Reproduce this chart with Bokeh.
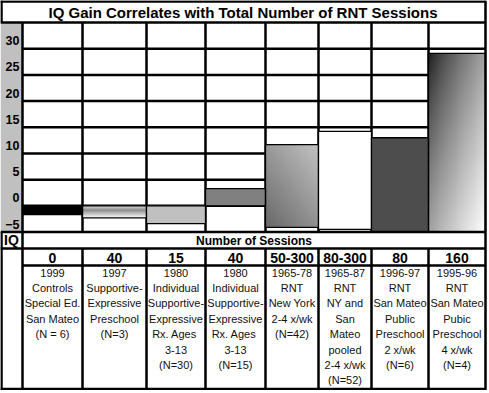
import numpy as np
from bokeh.plotting import figure
from bokeh.models import Range1d, LinearAxis, FixedTicker, ColumnDataSource
from bokeh.core.properties import value
from bokeh.embed import file_html
from bokeh.resources import INLINE

# ---------------- data ----------------
TITLE = "IQ Gain Correlates with Total Number of RNT Sessions"
ROW_TITLE = "Number of Sessions"
AXIS_NAME = "IQ"
sessions = ["0", "40", "15", "40", "50-300", "80-300", "80", "160"]
iq_gain = [-1.7, -2.3, -3.4, 3.3, 11.7, 14.2, 13.0, 29.1]
bar_base = [0, 0, 0, 0, -4.1, -4.5, -5, -5]
bar_fill = ["#000000", "grad_a", "#c0c0c0", "#808080", "grad_b", "#ffffff", "#4d4d4d", "grad_c"]
descriptions = [
    ["1999", "Controls", "Special Ed.", "San Mateo", "(N = 6)"],
    ["1997", "Supportive-", "Expressive", "Preschool", "(N=3)"],
    ["1980", "Individual", "Supportive-", "Expressive", "Rx.  Ages", "3-13", "(N=30)"],
    ["1980", "Individual", "Supportive-", "Expressive", "Rx.  Ages", "3-13", "(N=15)"],
    ["1965-78", "RNT", "New York", "2-4 x/wk", "(N=42)"],
    ["1965-87", "RNT", "NY and", "San", "Mateo", "pooled", "2-4 x/wk", "(N=52)"],
    ["1996-97", "RNT", "San Mateo", "Public", "Preschool", "2 x/wk", "(N=6)"],
    ["1995-96", "RNT", "San Mateo", "Pubic", "Preschool", "4 x/wk", "(N=4)"],
]
y_ticks = [-5, 0, 5, 10, 15, 20, 25, 30]
y_min, y_max = -5, 35

# ---------------- layout (pixels) ----------------
W, H = 487, 390
LEFT = 22
col_widths = [60, 64, 59, 60, 53, 53, 57, 57]
edges = list(np.cumsum([LEFT] + col_widths).astype(float))
N = len(sessions)
RIGHT = edges[-1]
TITLE_BOTTOM = 22.0
CHART_BOTTOM = 231.5
ROW1 = 248.0
ROW2 = 265.0
BODY0, BODY_STEP = 272.0, 15.4
BOTTOM = 388.5
LABEL_SHIFT_PX = 8.0
LINE_W = 2.5
SANS = value("Liberation Sans")

scale = (CHART_BOTTOM - TITLE_BOTTOM) / (y_max - y_min)


def px_to_val(ypx):
    return y_max - (ypx - TITLE_BOTTOM) / scale


def gradient(kind, nx=60, ny=200):
    u = np.linspace(0, 1, nx)[None, :]
    v = np.linspace(0, 1, ny)[:, None]  # row 0 = bottom
    if kind == "grad_a":
        g = np.interp(1 - v, [0, 0.35, 1], [225, 140, 255])
    elif kind == "grad_b":
        g = 105 + 90 * (0.45 * u + 0.55 * v)
    else:
        t = (u + (1 - v)) / 2
        g = 25 + 230 * t ** 0.75
    g = np.broadcast_to(g, (ny, nx))
    rgba = np.zeros((ny, nx, 4), dtype=np.uint8)
    rgba[..., 0] = g
    rgba[..., 1] = g
    rgba[..., 2] = g
    rgba[..., 3] = 255
    return rgba.view(np.uint32).reshape(ny, nx)


p = figure(width=W, height=H, x_range=Range1d(0, W), y_range=Range1d(H, 0),
           toolbar_location=None, output_backend="svg", min_border=0,
           x_axis_location=None, y_axis_location=None,
           outline_line_color=None, background_fill_color="white", border_fill_color="white")
p.grid.visible = False

v_lo, v_hi = px_to_val(H), px_to_val(0)
shift = LABEL_SHIFT_PX / scale
p.extra_y_ranges = {"val": Range1d(v_lo, v_hi), "lab": Range1d(v_lo - shift, v_hi - shift)}

# gray value-axis column
p.quad(left=[0], right=[LEFT], top=[TITLE_BOTTOM], bottom=[CHART_BOTTOM],
       fill_color="#c0c0c0", line_color=None)

# chart grid lines (value space)
gy = [v for v in y_ticks if v > y_min]
p.segment(x0=[LEFT] * len(gy), x1=[RIGHT] * len(gy), y0=gy, y1=gy, y_range_name="val",
          line_color="black", line_width=LINE_W)
inner = edges[1:-1]
p.segment(x0=inner, x1=inner, y0=[y_min] * len(inner), y1=[y_max] * len(inner),
          y_range_name="val", line_color="black", line_width=LINE_W)

# bars
centers = [(edges[i] + edges[i + 1]) / 2 for i in range(N)]
for i, f in enumerate(bar_fill):
    if f.startswith("grad"):
        lo = min(bar_base[i], iq_gain[i])
        hi = max(bar_base[i], iq_gain[i])
        p.image_rgba(image=[gradient(f)], x=edges[i], y=lo, dw=col_widths[i], dh=hi - lo,
                     y_range_name="val")

src = ColumnDataSource(dict(
    x=centers, w=col_widths, top=iq_gain, bottom=bar_base,
    fill=[("white" if f.startswith("grad") else f) for f in bar_fill],
    alpha=[(0.0 if f.startswith("grad") else 1.0) for f in bar_fill],
))
p.vbar(x="x", top="top", bottom="bottom", width="w", source=src, y_range_name="val",
       fill_color="fill", fill_alpha="alpha", line_color="black", line_width=1.3)

# frame / table lines (pixel space)
hx0 = [0, 0, 0, 0, LEFT, 0]
hy = [1, TITLE_BOTTOM, CHART_BOTTOM, ROW1, ROW2, BOTTOM]
p.segment(x0=hx0, x1=[RIGHT] * len(hy), y0=hy, y1=hy, line_color="black", line_width=LINE_W)
vx = [1, 1, LEFT, RIGHT] + inner
vy0 = [0, CHART_BOTTOM, TITLE_BOTTOM, 0] + [ROW1] * len(inner)
vy1 = [TITLE_BOTTOM, H, H, H] + [H] * len(inner)
p.segment(x0=vx, x1=vx, y0=vy0, y1=vy1, line_color="black", line_width=LINE_W)

# texts
p.text(x=[(RIGHT) / 2], y=[TITLE_BOTTOM / 2 + 0.5], text=[TITLE], text_align="center",
       text_baseline="middle", text_font=SANS, text_font_style="bold",
       text_font_size="15px", text_color="black")
p.text(x=[LEFT / 2], y=[(CHART_BOTTOM + ROW1) / 2], text=[AXIS_NAME], text_align="center",
       text_baseline="middle", text_font=SANS, text_font_style="bold",
       text_font_size="14px", text_color="black")
p.text(x=[(LEFT + RIGHT) / 2], y=[(CHART_BOTTOM + ROW1) / 2 + 1], text=[ROW_TITLE],
       text_align="center", text_baseline="middle", text_font=SANS, text_font_style="bold",
       text_font_size="12px", text_color="black")
p.text(x=centers, y=[(ROW1 + ROW2) / 2 + 0.5] * N, text=sessions, text_align="center",
       text_baseline="middle", text_font=SANS, text_font_style="bold",
       text_font_size="14px", text_color="black")

dx, dy, dt = [], [], []
for i, lines in enumerate(descriptions):
    for k, s in enumerate(lines):
        dx.append(centers[i])
        dy.append(BODY0 + BODY_STEP * k)
        dt.append(s)
p.text(x=dx, y=dy, text=dt, text_align="center", text_baseline="middle",
       text_font=SANS, text_font_size="11px", text_color="#111111")

# value axis, drawn inside the gray column
ax = LinearAxis(y_range_name="lab", ticker=FixedTicker(ticks=y_ticks), fixed_location=LEFT,
                axis_line_color=None, major_tick_line_color=None, minor_tick_line_color=None,
                major_tick_in=0, major_tick_out=0, major_label_standoff=3,
                major_label_text_font="Liberation Sans", major_label_text_font_style="bold",
                major_label_text_font_size="12.5px", major_label_text_color="black")
p.add_layout(ax, "left")

open("out.html", "w").write(file_html(p, INLINE))
